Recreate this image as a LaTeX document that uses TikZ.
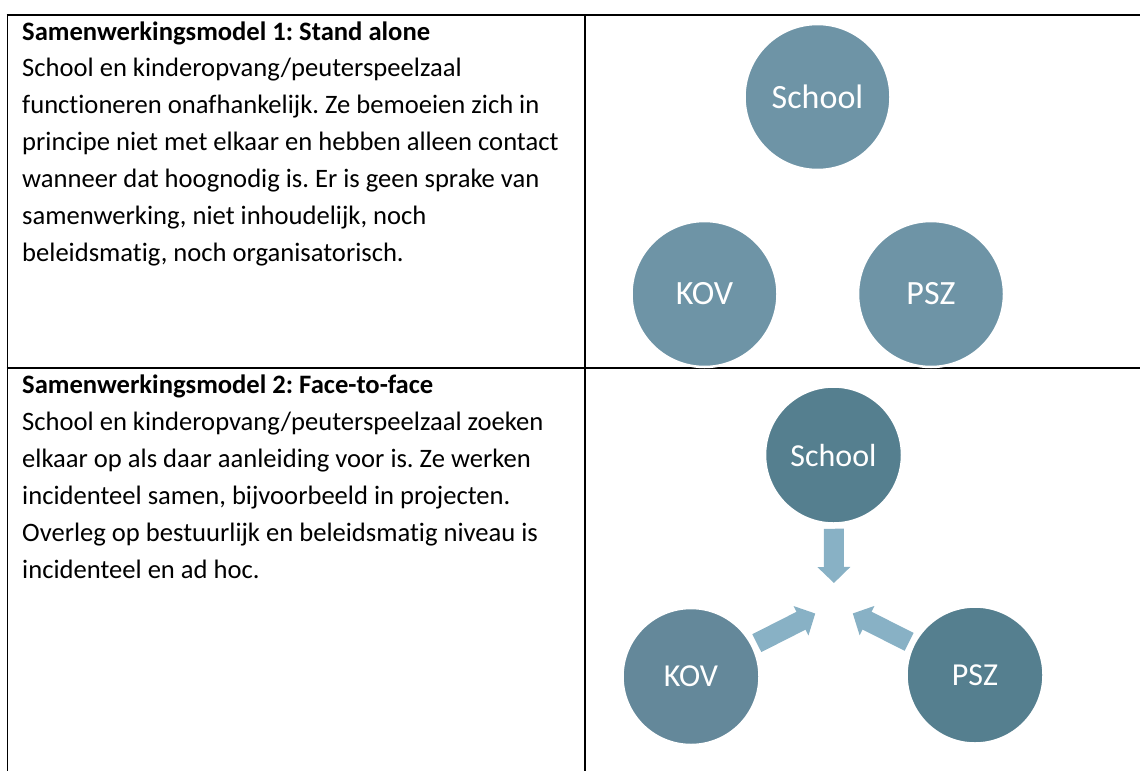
\documentclass[tikz,border=0pt]{standalone}
\usepackage{fontspec}
\setmainfont{Carlito}[Ligatures=NoCommon]
\usetikzlibrary{arrows.meta}
\definecolor{circleA}{HTML}{6E94A6}
\definecolor{circleB}{HTML}{557F8F}
\definecolor{circleC}{HTML}{64889A}
\definecolor{arrowblue}{HTML}{88B1C5}
\frenchspacing
\begin{document}
\begin{tikzpicture}[x=1pt,y=-1pt]
	\tikzset{
		rule/.style={line width=1.6pt},
		title/.style={anchor=base west,inner sep=0,font=\fontsize{26.6}{32}\selectfont\bfseries},
		body/.style={anchor=base west,inner sep=0,font=\fontsize{26.6}{32}\selectfont},
		party/.style={circle,inner sep=0,text=white,draw=white,line width=2.5pt},
		big party/.style={party,minimum size=146pt,fill=circleA,font=\fontsize{34}{40}\selectfont},
		small party/.style={party,minimum size=137pt,font=\fontsize{32}{38}\selectfont},
		link/.style={line width=20pt,draw=arrowblue,-{Triangle[width=32pt,length=16pt]},
			shorten >=21pt,shorten <=4pt}
	}
	\useasboundingbox (0,0) rectangle (1140,771);
	% table rules
	\draw[rule] (6.5,15) -- (1140,15);
	\draw[rule] (7.5,15) -- (7.5,771);
	\draw[rule] (585,15) -- (585,771);
	\draw[rule] (6.5,368) -- (1140,368);
	% model 1: stand alone
	\node[title] (t1) at (22,40) {Samenwerkingsmodel 1: Stand alone};
	\foreach \txt [count=\i] in {{School en kinderopvang/peuterspeelzaal},
		{functioneren onafhankelijk. Ze bemoeien zich in},
		{principe niet met elkaar en hebben alleen contact},
		{wanneer dat hoognodig is. Er is geen sprake van},
		{samenwerking, niet inhoudelijk, noch},
		{beleidsmatig, noch organisatorisch.}}
		\node[body] (a\i) at (22,{40+36.9*\i}) {\txt};
	\node[big party] (school1) at (817.5,97) {School};
	\node[big party] (kov1) at (704.5,294) {KOV};
	\node[big party] (psz1) at (931,294) {PSZ};
	% model 2: face-to-face
	\node[title] (t2) at (22,393.5) {Samenwerkingsmodel 2: Face-to-face};
	\foreach \txt [count=\i] in {{School en kinderopvang/peuterspeelzaal zoeken},
		{elkaar op als daar aanleiding voor is. Ze werken},
		{incidenteel samen, bijvoorbeeld in projecten.},
		{Overleg op bestuurlijk en beleidsmatig niveau is},
		{incidenteel en ad hoc.}}
		\node[body] (b\i) at (22,{393.5+36.9*\i}) {\txt};
	\node[small party,fill=circleB] (school2) at (833.5,455) {School};
	\node[small party,fill=circleC] (kov2) at (691,676.5) {KOV};
	\node[small party,fill=circleB] (psz2) at (975,675) {PSZ};
	\coordinate (hub) at (834,604);
	\draw[link] (school2) -- (hub);
	\draw[link] (kov2) -- (hub);
	\draw[link] (psz2) -- (hub);
\end{tikzpicture}
\end{document}
